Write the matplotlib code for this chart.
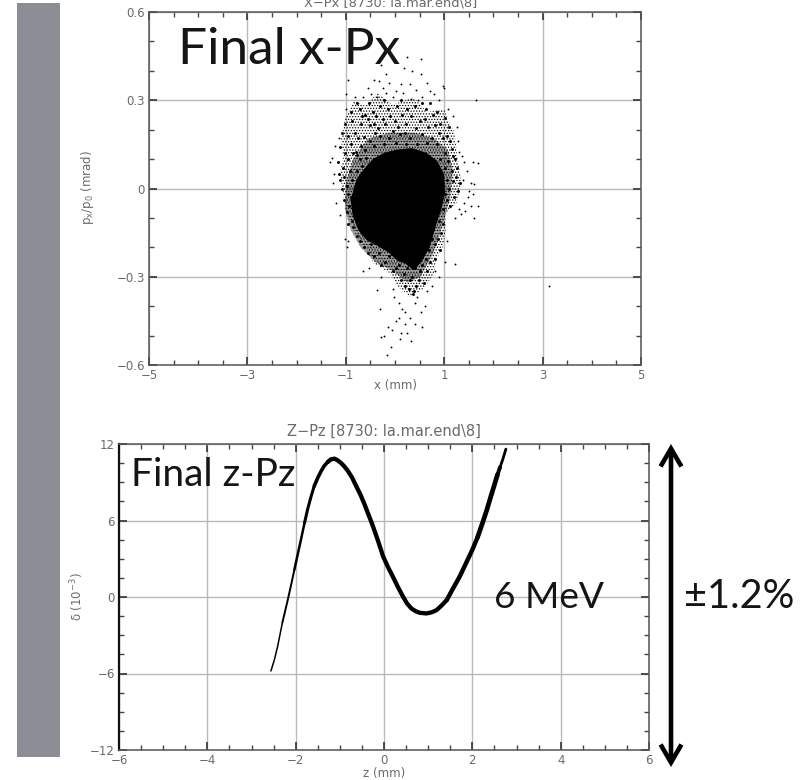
import matplotlib
matplotlib.use('Agg')
import matplotlib.pyplot as plt
from matplotlib.patches import Rectangle, FancyArrowPatch
from matplotlib.ticker import MultipleLocator

W, H = 801, 780
plt.rcParams['hatch.linewidth'] = 0.6

# ---- data ----
xpx_ticks_x = [-5, -3, -1, 1, 3, 5]
xpx_ticks_y = [-0.6, -0.3, 0, 0.3, 0.6]
zpz_ticks_x = [-6, -4, -2, 0, 2, 4, 6]
zpz_ticks_y = [-12, -6, 0, 6, 12]

core_x = [0.04, -0.20, -0.42, -0.58, -0.74, -0.86, -0.82, -0.70, -0.55, -0.32, -0.12, 0.08, 0.24, 0.38, 0.52, 0.66, 0.80, 0.90, 0.98, 0.95, 0.82, 0.62, 0.34]
core_y = [0.125, 0.115, 0.095, 0.065, 0.03, -0.04, -0.09, -0.14, -0.17, -0.19, -0.21, -0.24, -0.25, -0.27, -0.24, -0.20, -0.12, -0.07, -0.01, 0.05, 0.09, 0.115, 0.13]

mid_x = [-0.10, -0.55, -0.85, -1.00, -1.02, -0.90, -0.70, -0.40, -0.05, 0.25, 0.52, 0.78, 0.98, 1.12, 1.18, 1.08, 0.80, 0.40]
mid_y = [0.19, 0.17, 0.10, 0.02, -0.07, -0.14, -0.20, -0.25, -0.28, -0.32, -0.30, -0.22, -0.12, -0.03, 0.06, 0.13, 0.17, 0.19]

halo_x = [-0.84, -0.60, -0.36, -0.05, 0.38, 0.65, 1.00, 1.12, 1.20, 1.27, 1.35, 1.25, 1.02, 1.03, 0.98, 0.84, 0.79, 0.59, 0.32, 0.04, -0.09, -0.43, -0.60, -0.77, -1.00, -1.12, -1.05, -1.10, -1.00, -0.93]
halo_y = [0.30, 0.28, 0.325, 0.285, 0.31, 0.26, 0.27, 0.215, 0.198, 0.108, 0.02, -0.05, -0.085, -0.14, -0.198, -0.24, -0.289, -0.34, -0.37, -0.33, -0.289, -0.255, -0.20, -0.164, -0.074, 0.051, 0.11, 0.164, 0.25, 0.26]

sparse_points = [
 (0.25,0.447),(0.53,0.44),(0.0,0.43),(-0.28,0.42),(0.19,0.41),(0.35,0.40),(0.52,0.39),(-0.19,0.39),(-0.95,0.37),(-0.42,0.37),
 (-0.33,0.365),(-0.12,0.36),(0.12,0.355),(0.30,0.355),(0.65,0.36),(0.42,0.335),(-0.55,0.34),(-0.25,0.34),(0.02,0.33),(0.16,0.325),
 (0.72,0.33),(0.80,0.32),(-0.48,0.32),(-0.18,0.325),(-0.82,0.31),(0.55,0.31),(0.90,0.30),(1.00,0.34),(1.65,0.30),(0.47,0.30),
 (-0.65,0.31),(-0.37,0.31),(-0.05,0.31),(0.33,0.305),(1.08,0.27),(1.18,0.245),(1.25,0.21),(-1.00,0.27),(-1.14,0.17),(-1.22,0.145),
 (-1.29,0.105),(-1.32,0.09),(-1.25,0.05),(-1.27,0.02),(1.28,0.16),(1.31,0.125),(1.36,0.11),(1.40,0.09),(1.58,0.09),(1.69,0.085),
 (1.47,0.06),(1.38,0.03),(1.55,0.02),(1.60,0.015),(1.50,-0.01),(1.58,-0.02),(1.48,-0.03),(1.40,-0.05),(1.54,-0.06),(1.43,-0.075),
 (1.30,-0.07),(1.60,-0.10),(1.35,-0.085),(1.68,-0.06),(1.22,-0.10),(-1.20,-0.05),(-1.12,-0.09),(-1.02,-0.17),(-0.98,-0.20),(1.05,-0.18),
 (1.22,-0.255),(1.02,-0.25),(0.90,-0.30),(0.75,-0.33),(0.82,-0.28),(-0.29,-0.30),(-0.65,-0.28),(-0.53,-0.27),(-0.36,-0.345),(0.66,-0.35),
 (0.60,-0.40),(0.52,-0.42),(0.40,-0.39),(-0.30,-0.41),(-0.02,-0.37),(0.09,-0.39),(0.21,-0.42),(0.30,-0.44),(0.15,-0.41),(0.08,-0.44),
 (0.02,-0.45),(0.20,-0.46),(0.40,-0.46),(0.55,-0.47),(-0.14,-0.47),(-0.07,-0.48),(0.13,-0.49),(0.25,-0.49),(0.33,-0.52),(-0.29,-0.505),
 (-0.22,-0.50),(0.11,-0.51),(-0.08,-0.54),(-0.16,-0.565),(-0.05,-0.34),(0.45,-0.37),(3.12,-0.33),(-0.96,-0.18),(-1.0,0.32),(0.98,0.35),
]

texture_points = [
 (-0.72,0.27),(-0.60,0.25),(-0.45,0.26),(-0.30,0.28),(-0.15,0.27),(0.05,0.28),(0.25,0.27),(0.40,0.28),(0.62,0.27),(0.78,0.25),
 (-0.88,0.23),(-0.70,0.22),(-0.50,0.215),(-0.42,0.22),(-0.35,0.205),(-0.20,0.22),(0.00,0.23),(0.22,0.22),(0.50,0.23),(0.68,0.21),
 (0.92,0.22),(-0.95,0.18),(-0.75,0.17),(-0.62,0.175),(-0.50,0.16),(-0.30,0.18),(-0.12,0.17),(0.10,0.185),(0.30,0.17),(0.75,0.17),
 (0.98,0.17),(1.12,0.16),(-1.02,0.12),(-0.85,0.12),(-0.80,0.125),(-0.78,0.115),(-0.60,0.13),(1.02,0.12),(1.18,0.11),(1.22,0.10),
 (-1.05,0.07),(-0.92,0.06),(1.02,0.07),(1.15,0.06),(1.24,0.04),(-1.13,0.05),(-1.11,0.03),(-0.95,-0.02),(1.10,0.00),(1.28,-0.01),
 (-0.98,-0.08),(-0.88,-0.11),(1.05,-0.04),(-0.78,-0.16),(-0.62,-0.20),(-0.42,-0.23),(0.82,-0.19),(0.94,-0.15),(-0.20,-0.25),(0.02,-0.27),
 (0.18,-0.29),(0.35,-0.30),(0.50,-0.28),(0.72,-0.25),(0.28,-0.34),(0.42,-0.33),(0.36,-0.36),(0.30,-0.31),(0.40,-0.27),(0.20,-0.33),
 (-0.78,0.29),(-0.52,0.29),(-0.22,0.30),(0.12,0.30),(0.55,0.29),(0.72,0.29),(-0.90,0.26),(-0.68,0.245),(-0.38,0.245),(-0.10,0.245),
 (0.15,0.25),(0.33,0.245),(0.85,0.26),(1.02,0.24),(-1.02,0.22),(-0.55,0.235),(-0.25,0.235),(0.07,0.21),(0.42,0.205),(0.60,0.235),
 (0.82,0.215),(1.10,0.21),(-1.08,0.19),(-0.82,0.19),(-0.40,0.19),(-0.05,0.195),(0.20,0.19),(0.55,0.185),(0.90,0.19),(1.05,0.18),
 (-1.12,0.14),(-0.90,0.15),(-0.70,0.145),(-0.42,0.145),(-0.22,0.15),(0.02,0.155),(0.22,0.15),(0.45,0.15),(0.65,0.155),(0.85,0.15),
 (1.15,0.135),(-0.95,0.10),(-0.72,0.10),(-0.58,0.105),(0.92,0.10),(1.08,0.095),(1.25,0.07),(-1.15,0.09),(-1.03,0.04),(-0.88,0.03),
 (-0.78,0.06),(-0.68,0.075),(1.05,0.03),(1.18,0.025),(1.32,0.02),(-1.08,0.00),(-0.98,0.01),(-0.90,-0.03),(1.02,-0.02),(1.20,-0.03),
 (-1.04,-0.04),(-0.93,-0.06),(0.98,-0.07),(1.12,-0.06),(-0.85,-0.13),(-0.95,-0.12),(-0.72,-0.18),(0.90,-0.11),(0.98,-0.12),(-0.68,-0.15),
 (0.88,-0.17),(0.76,-0.17),(-0.55,-0.22),(-0.48,-0.19),(-0.32,-0.22),(-0.28,-0.26),(-0.12,-0.23),(0.70,-0.21),(0.62,-0.24),(0.82,-0.24),
 (0.92,-0.21),(0.55,-0.26),(0.65,-0.28),(0.08,-0.26),(-0.05,-0.28),(0.12,-0.31),(0.25,-0.27),(0.48,-0.31),(0.58,-0.32),(0.38,-0.35),
]

bunch_z = [-2.56, -2.48, -2.41, -2.30, -2.18, -2.10, -2.03, -1.95, -1.88, -1.80, -1.73, -1.65, -1.58, -1.50, -1.42, -1.35,
           -1.27, -1.20, -1.12, -1.05, -0.97, -0.90, -0.82, -0.72, -0.63, -0.53, -0.44, -0.35, -0.25, -0.13, -0.02, 0.09,
           0.20, 0.32, 0.43, 0.52, 0.62, 0.72, 0.81, 0.96, 1.08, 1.19, 1.30, 1.42, 1.56, 1.71, 1.85, 2.00, 2.12, 2.23,
           2.33, 2.42, 2.50, 2.57, 2.63, 2.69, 2.76]
bunch_delta = [-5.8, -4.9, -3.9, -2.0, -0.24, 1.0, 2.13, 3.4, 4.5, 5.8, 6.87, 7.9, 8.7, 9.35, 9.9, 10.3,
               10.6, 10.8, 10.85, 10.72, 10.5, 10.25, 9.9, 9.35, 8.7, 8.0, 7.26, 6.45, 5.55, 4.35, 3.18, 2.35,
               1.6, 0.75, 0.03, -0.5, -0.9, -1.12, -1.24, -1.29, -1.2, -1.03, -0.68, -0.24, 0.65, 1.58, 2.6, 3.7, 4.7, 5.8,
               6.85, 7.9, 8.8, 9.6, 10.2, 10.8, 11.6]

GREY = '#6a6a6a'
SP = '#555555'
FONT = 'Lato'


def px_axes(fig, l, t, r, b):
    return fig.add_axes([l / W, 1 - b / H, (r - l) / W, (b - t) / H])


def ftext(fig, x, y, s, **kw):
    kw.setdefault('ha', 'left')
    kw.setdefault('va', 'center')
    return fig.text(x / W, 1 - y / H, s, **kw)


def style(ax, xt, yt, xminor, yminor):
    ax.set_xticks(xt)
    ax.set_yticks(yt)
    ax.xaxis.set_minor_locator(MultipleLocator(xminor))
    ax.yaxis.set_minor_locator(MultipleLocator(yminor))
    ax.grid(True, which='major', color='#b9b9b9', lw=1.0, zorder=0)
    ax.set_axisbelow(True)
    ax.tick_params(which='major', direction='in', length=6, width=1.2, color='#333333',
                   top=True, right=True, labelsize=8.5, labelcolor=GREY, pad=3)
    ax.tick_params(which='minor', direction='in', length=3.5, width=1.0, color='#444444',
                   top=True, right=True)
    for s in ax.spines.values():
        s.set_color(SP)
        s.set_linewidth(1.1)


fig = plt.figure(figsize=(W / 100, H / 100), dpi=100, facecolor='white')

# grey side bar
fig.add_artist(Rectangle((17 / W, 1 - 757 / H), 43 / W, 754 / H, transform=fig.transFigure,
                         facecolor='#8b8f95', edgecolor='none'))

# ---- x-Px ----
ax1 = px_axes(fig, 149, 12, 641, 365)
ax1.set_xlim(-5, 5)
ax1.set_ylim(-0.6, 0.6)
style(ax1, xpx_ticks_x, xpx_ticks_y, 0.5, 0.1)
ax1.set_xticklabels(['\u22125', '\u22123', '\u22121', '1', '3', '5'])
ax1.set_yticklabels(['\u22120.6', '\u22120.3', '0', '0.3', '0.6'])
ax1.fill(halo_x, halo_y, facecolor='none', edgecolor='black', hatch='......', lw=0, zorder=2)
ax1.fill(mid_x, mid_y, facecolor='none', edgecolor='black', hatch='............', lw=0, zorder=2)
ax1.fill(core_x, core_y, color='black', lw=3, joinstyle='round', zorder=3)
sx, sy = zip(*sparse_points)
tx, ty = zip(*texture_points)
ax1.scatter(sx, sy, s=1.8, color='black', lw=0, zorder=4)
ax1.scatter(tx, ty, s=4.5, color='black', lw=0, zorder=4)

# ---- z-Pz ----
ax2 = px_axes(fig, 119, 444, 649, 750)
ax2.set_xlim(-6, 6)
ax2.set_ylim(-12, 12)
style(ax2, zpz_ticks_x, zpz_ticks_y, 0.5, 1.5)
ax2.set_xticklabels(['\u22126', '\u22124', '\u22122', '0', '2', '4', '6'])
ax2.set_yticklabels(['\u221212', '\u22126', '0', '6', '12'])
ax2.spines['left'].set_color('#111111')
ax2.spines['left'].set_linewidth(1.6)
for start, stop, width in [(0, 4, 1.1), (3, 7, 1.4), (6, 10, 1.8), (9, 13, 2.2), (12, 17, 2.6), (16, 44, 3.1),
                           (43, 49, 3.2), (48, 54, 3.4), (53, 55, 2.8), (54, 57, 2.0)]:
    ax2.plot(bunch_z[start:stop], bunch_delta[start:stop], color='black', lw=width,
             solid_capstyle='round', solid_joinstyle='round', zorder=3)

# ---- plot titles and axis labels ----
ftext(fig, 304, 3, 'X\u2212Px [8730: la.mar.end\\8]', fontsize=9.4, color=GREY, family='DejaVu Sans')
ftext(fig, 287, 431, 'Z\u2212Pz [8730: la.mar.end\\8]', fontsize=10.5, color=GREY, family='DejaVu Sans')
ftext(fig, 395, 385, 'x (mm)', fontsize=8.5, color=GREY, ha='center')
ftext(fig, 384, 773, 'z (mm)', fontsize=8.5, color=GREY, ha='center')
ftext(fig, 88, 188, r'p$_{\mathrm{x}}$/p$_{\mathrm{0}}$ (mrad)', fontsize=8.5, color=GREY, rotation=90, ha='center')
ftext(fig, 77, 597, '\u03b4 (10$^{\u22123}$)', fontsize=8.5, color=GREY, rotation=90, ha='center')

# ---- annotations ----
ftext(fig, 178, 64, 'Final x-Px', fontsize=37, color='#151515', family=FONT, va='baseline')
ftext(fig, 131, 486, 'Final z-Pz', fontsize=28, color='#151515', family=FONT, va='baseline')
ftext(fig, 494, 608, '6 MeV', fontsize=26.7, color='#151515', family=FONT, va='baseline')
ftext(fig, 684, 608, '\u00b11.2%', fontsize=28.5, color='#151515', family=FONT, va='baseline')

arrow = FancyArrowPatch((671 / W, 1 - 444 / H), (671 / W, 1 - 767 / H), transform=fig.transFigure,
                        arrowstyle='<->,head_length=4.3,head_width=2.5', mutation_scale=3,
                        color='black', lw=3.3, shrinkA=0, shrinkB=0, joinstyle='miter', capstyle='butt')
fig.add_artist(arrow)

fig.savefig('out.png', dpi=100, facecolor='white')
